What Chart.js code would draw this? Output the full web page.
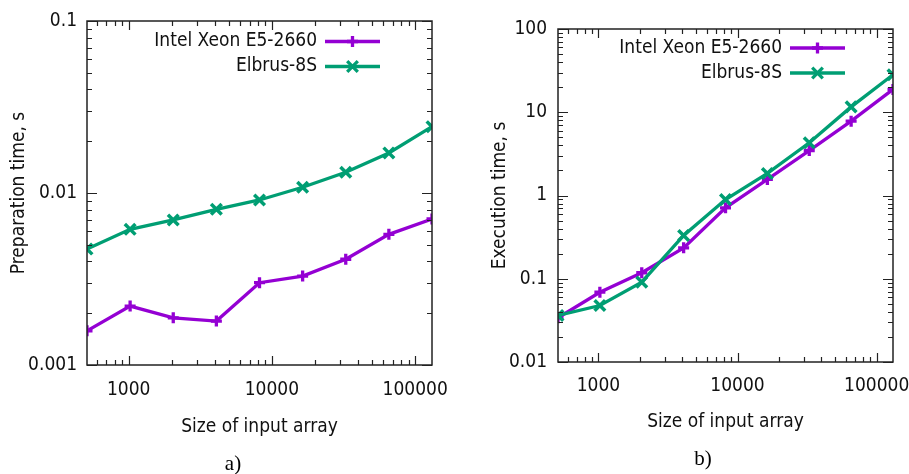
<!DOCTYPE html>
<html>
<head>
<meta charset="utf-8">
<script src="https://cdn.jsdelivr.net/npm/chart.js@4"></script>
<style>
  body { margin: 0; background: #fff; }
  .box { position: absolute; top: 0; }
  #boxA { left: 0; width: 450px; height: 474px; }
  #boxB { left: 450px; width: 459px; height: 474px; }
</style>
</head>
<body>
<div class="box" id="boxA"><canvas id="prepChart"></canvas></div>
<div class="box" id="boxB"><canvas id="execChart"></canvas></div>
<script>
// array sizes (x), 2^9 .. 2^17
const sizes = [512, 1024, 2048, 4096, 8192, 16384, 32768, 65536, 131072];
const seriesNames = ['Intel Xeon E5-2660', 'Elbrus-8S'];

// a) preparation time, s
const prepIntel   = [0.00158, 0.00220, 0.00188, 0.00180, 0.00301, 0.00329, 0.00412, 0.00575, 0.00706];
const prepElbrus  = [0.00472, 0.00615, 0.00697, 0.00804, 0.00911, 0.0108, 0.0132, 0.0171, 0.0243];

// b) execution time, s
const execIntel   = [0.034, 0.0689, 0.118, 0.235, 0.711, 1.56, 3.47, 7.81, 18.8];
const execElbrus  = [0.0362, 0.0477, 0.091, 0.331, 0.895, 1.84, 4.30, 11.6, 28.2];

// tick labels
const xTicks = [1000, 10000, 100000];
const yTicksPrep = [0.001, 0.01, 0.1];
const yTicksExec = [0.01, 0.1, 1, 10, 100];

const FONT = "'DejaVu Sans Condensed', 'DejaVu Sans', sans-serif";
const FSIZE = 19;
const TEXT = '#111';
const PURPLE = '#9400d3';
const GREEN = '#009e73';

// gnuplot style frame with inward major/minor ticks on all sides
const framePlugin = {
    id: 'frame',
    afterDatasetsDraw(chart) {
        const { ctx, chartArea: a, scales } = chart;
        ctx.save();
        ctx.strokeStyle = '#222';
        ctx.lineWidth = 1.2;
        function logTicks(scale) {
            const out = [];
            const lo = Math.floor(Math.log10(scale.min));
            const hi = Math.ceil(Math.log10(scale.max));
            for (let e = lo; e <= hi; e++) {
                for (let m = 1; m <= 9; m++) {
                    const v = m * Math.pow(10, e);
                    if (v >= scale.min * 0.999 && v <= scale.max * 1.001) out.push({ v, major: m === 1 });
                }
            }
            return out;
        }
        ctx.beginPath();
        logTicks(scales.x).forEach(t => {
            const px = Math.round(scales.x.getPixelForValue(t.v)) + 0.5;
            const len = t.major ? 9 : 5;
            ctx.moveTo(px, a.bottom); ctx.lineTo(px, a.bottom - len);
            ctx.moveTo(px, a.top); ctx.lineTo(px, a.top + len);
        });
        logTicks(scales.y).forEach(t => {
            const py = Math.round(scales.y.getPixelForValue(t.v)) + 0.5;
            const len = t.major ? 10 : 5;
            ctx.moveTo(a.left, py); ctx.lineTo(a.left + len, py);
            ctx.moveTo(a.right, py); ctx.lineTo(a.right - len, py);
        });
        ctx.stroke();
        ctx.lineWidth = 1.5;
        ctx.strokeRect(a.left, a.top, a.right - a.left, a.bottom - a.top);
        ctx.restore();
    }
};

// legend inside the plot: text right aligned, line sample with marker on the right
const keyPlugin = {
    id: 'key',
    afterDraw(chart, args, opts) {
        const { ctx, chartArea: a } = chart;
        ctx.save();
        ctx.font = FSIZE + 'px ' + FONT;
        ctx.textAlign = 'right';
        ctx.textBaseline = 'middle';
        chart.data.datasets.forEach((ds, i) => {
            const y = a.top + opts.top + i * 25;
            const xr = a.right - opts.right;
            ctx.fillStyle = TEXT;
            ctx.fillText(ds.label, xr, y);
            ctx.strokeStyle = ds.borderColor;
            ctx.lineWidth = ds.borderWidth;
            ctx.beginPath();
            ctx.moveTo(xr + 8, y);
            ctx.lineTo(xr + 63, y);
            ctx.stroke();
            Chart.helpers.drawPoint(ctx, {
                pointStyle: ds.pointStyle, radius: ds.pointRadius, borderWidth: ds.pointBorderWidth, rotation: 0
            }, xr + 35.5, y);
        });
        ctx.restore();
    }
};

// caption "a)" / "b)" under each plot
const captionPlugin = {
    id: 'caption',
    afterDraw(chart, args, opts) {
        const ctx = chart.ctx;
        ctx.save();
        ctx.font = "21px 'Liberation Serif', 'DejaVu Serif', serif";
        ctx.fillStyle = '#000';
        ctx.textAlign = 'center';
        ctx.textBaseline = 'middle';
        ctx.fillText(opts.text, opts.x, opts.y);
        ctx.restore();
    }
};

function makeDatasets(intel, elbrus) {
    return [{
        label: seriesNames[0],
        data: sizes.map((s, i) => ({ x: s, y: intel[i] })),
        borderColor: PURPLE,
        backgroundColor: PURPLE,
        borderWidth: 3.3,
        pointStyle: 'cross',
        pointRadius: 5.5,
        pointBorderWidth: 3.3,
        pointBorderColor: PURPLE,
        order: 1
    }, {
        label: seriesNames[1],
        data: sizes.map((s, i) => ({ x: s, y: elbrus[i] })),
        borderColor: GREEN,
        backgroundColor: GREEN,
        borderWidth: 3.3,
        pointStyle: 'crossRot',
        pointRadius: 7.5,
        pointBorderWidth: 3.5,
        pointBorderColor: GREEN,
        order: 0
    }];
}

function makeChart(id, cfg) {
    const ctx = document.getElementById(id).getContext('2d');
    return new Chart(ctx, {
        type: 'line',
        data: { datasets: makeDatasets(cfg.intel, cfg.elbrus) },
        options: {
            responsive: true,
            maintainAspectRatio: false,
            animation: false,
            layout: { padding: { left: 0, right: cfg.padRight, top: cfg.padTop, bottom: 0 } },
            scales: {
                x: {
                    type: 'logarithmic',
                    min: 512,
                    max: 131072,
                    afterBuildTicks: s => { s.ticks = xTicks.map(v => ({ value: v, major: true })); },
                    afterFit: s => { s.height = cfg.xHeight; s.paddingLeft = 0; s.paddingRight = 0; },
                    grid: { display: false, drawTicks: false },
                    border: { display: false },
                    ticks: {
                        autoSkip: false,
                        maxRotation: 0,
                        padding: cfg.xTickPad,
                        color: TEXT,
                        font: { family: FONT, size: FSIZE },
                        callback: v => String(v)
                    },
                    title: {
                        display: true,
                        text: 'Size of input array',
                        color: TEXT,
                        font: { family: FONT, size: FSIZE },
                        padding: { top: 0, bottom: cfg.xTitlePad }
                    }
                },
                y: {
                    type: 'logarithmic',
                    min: cfg.yTicks[0],
                    max: cfg.yTicks[cfg.yTicks.length - 1],
                    afterBuildTicks: s => { s.ticks = cfg.yTicks.map(v => ({ value: v, major: true })); },
                    afterFit: s => { s.width = cfg.yWidth; s.paddingTop = 0; s.paddingBottom = 0; },
                    grid: { display: false, drawTicks: false },
                    border: { display: false },
                    ticks: {
                        autoSkip: false,
                        padding: cfg.yTickPad,
                        color: TEXT,
                        font: { family: FONT, size: FSIZE },
                        callback: v => String(v)
                    },
                    title: {
                        display: true,
                        text: cfg.yTitle,
                        color: TEXT,
                        font: { family: FONT, size: FSIZE },
                        padding: { top: cfg.yTitlePad, bottom: 0 }
                    }
                }
            },
            plugins: {
                legend: { display: false },
                tooltip: { enabled: false },
                key: cfg.key,
                caption: cfg.caption
            }
        },
        plugins: [framePlugin, keyPlugin, captionPlugin]
    });
}

makeChart('prepChart', {
    intel: prepIntel, elbrus: prepElbrus, yTicks: yTicksPrep,
    yTitle: 'Preparation time, s',
    padRight: 18, padTop: 21, xHeight: 109, yWidth: 87,
    xTickPad: 14, xTitlePad: 36, yTickPad: 10, yTitlePad: 8,
    key: { top: 20.5, right: 115 },
    caption: { text: 'a)', x: 233, y: 464 }
});

makeChart('execChart', {
    intel: execIntel, elbrus: execElbrus, yTicks: yTicksExec,
    yTitle: 'Execution time, s',
    padRight: 16, padTop: 29, xHeight: 112, yWidth: 108,
    xTickPad: 13, xTitlePad: 41, yTickPad: 11, yTitlePad: 39,
    key: { top: 19, right: 111 },
    caption: { text: 'b)', x: 253, y: 459 }
});
</script>
</body>
</html>
